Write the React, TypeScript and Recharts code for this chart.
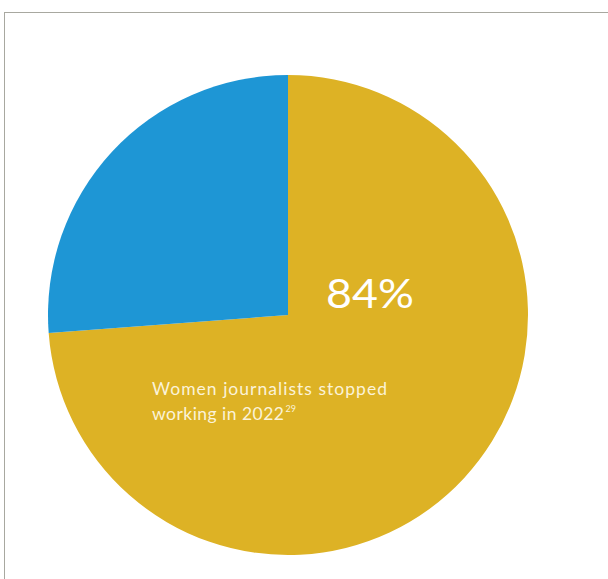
import { PieChart, Pie, Cell } from "recharts";

// slice shares
const sliceNames = ["Stopped working", "Other"];
const sliceValues = [73.8, 26.2];
const sliceColors = ["#ddb225", "#1e96d5"];

const headline = "84%";
const captionLines = ["Women journalists stopped", "working in 2022"];
const footnote = "29";

const data = sliceNames.map((name, i) => ({ name, value: sliceValues[i] }));

const font = "Lato, 'Open Sans', sans-serif";

export default function App() {
  return (
    <div style={{ position: "fixed", left: 0, top: 0, width: 608, height: 579, background: "#fff", overflow: "hidden" }}>
      <div
        style={{
          position: "absolute",
          left: 4,
          top: 12,
          width: 620,
          height: 600,
          borderTop: "1px solid #a8a8a0",
          borderLeft: "1px solid #a8a8a0",
        }}
      />
      <div style={{ position: "absolute", left: 0, top: 0 }}>
        <PieChart width={608} height={579} margin={{ top: 0, right: 0, bottom: 0, left: 0 }}>
          <Pie
            data={data}
            dataKey="value"
            nameKey="name"
            cx={288}
            cy={315}
            outerRadius={240}
            startAngle={90}
            endAngle={-270}
            stroke="none"
            isAnimationActive={false}
          >
            {data.map((d, i) => (
              <Cell key={d.name} fill={sliceColors[i]} />
            ))}
          </Pie>
        </PieChart>
      </div>
      {/* text overlay on the yellow slice */}
      <svg width={608} height={579} style={{ position: "absolute", left: 0, top: 0, pointerEvents: "none" }}>
        <text x={326} y={308} fill="#fff" fontSize={41} fontFamily={font} textLength={88} lengthAdjust="spacingAndGlyphs">
          {headline}
        </text>
        <text x={152} y={395} fill="#fbf3d8" fontSize={17.5} fontFamily={font} textLength={235} lengthAdjust="spacing">
          {captionLines[0]}
        </text>
        <text x={152} y={420} fill="#fbf3d8" fontSize={17.5} fontFamily={font}>
          <tspan textLength={132} lengthAdjust="spacing">{captionLines[1]}</tspan>
          <tspan fontSize={9} dy={-8} dx={1}>
            {footnote}
          </tspan>
        </text>
      </svg>
    </div>
  );
}
